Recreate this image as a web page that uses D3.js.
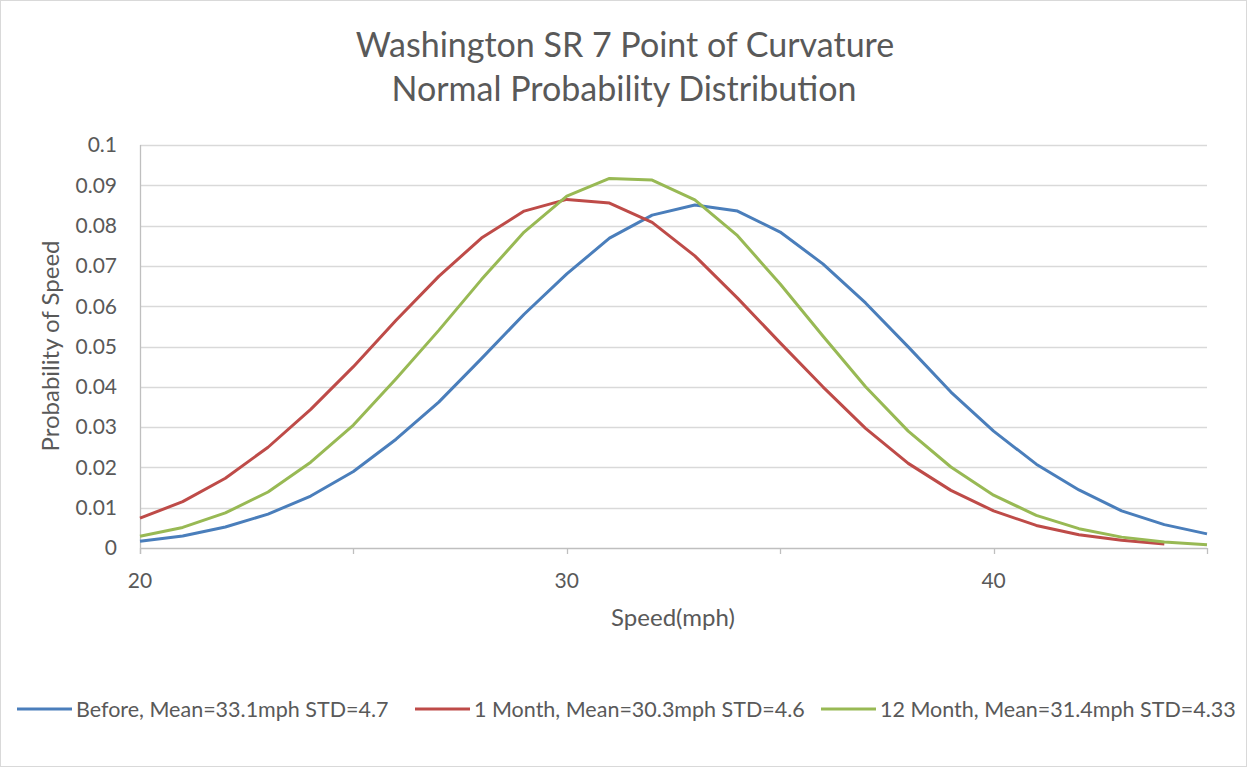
<!DOCTYPE html>
<html>
<head>
<meta charset="utf-8">
<script src="https://cdn.jsdelivr.net/npm/d3@7"></script>
<style>
  html, body { margin: 0; padding: 0; background: #fff; }
  svg { display: block; }
  text { font-family: Lato, "Open Sans", sans-serif; fill: #595959; }
</style>
</head>
<body>
<script>
// Speeds (mph) sampled at whole numbers
const speeds = d3.range(20, 46);

// Probability of speed for each period
const beforeValues = [0.0017, 0.0030, 0.0052, 0.0084, 0.0129, 0.0190, 0.0270, 0.0362, 0.0470, 0.0580,
  0.0680, 0.0769, 0.0826, 0.0851, 0.0836, 0.0784, 0.0705, 0.0608, 0.0499, 0.0387,
  0.0290, 0.0208, 0.0144, 0.0092, 0.0058, 0.0035];
const oneMonthValues = [0.0074, 0.0115, 0.0173, 0.0250, 0.0344, 0.0450, 0.0565, 0.0674, 0.0769, 0.0836,
  0.0865, 0.0856, 0.0808, 0.0725, 0.0620, 0.0509, 0.0400, 0.0297, 0.0210, 0.0143,
  0.0092, 0.0056, 0.0033, 0.0019, 0.0010];
const twelveMonthValues = [0.0029, 0.0051, 0.0087, 0.0139, 0.0213, 0.0305, 0.0420, 0.0540, 0.0666, 0.0784,
  0.0873, 0.0917, 0.0913, 0.0864, 0.0775, 0.0655, 0.0526, 0.0400, 0.0290, 0.0201,
  0.0131, 0.0081, 0.0048, 0.0027, 0.0015, 0.0008];

const seriesNames = [
  "Before, Mean=33.1mph STD=4.7",
  "1 Month, Mean=30.3mph STD=4.6",
  "12 Month, Mean=31.4mph STD=4.33"
];
const seriesColors = ["#4a7ebb", "#be4b48", "#98b954"];

const xTickValues = [20, 30, 40];
const xMinorTicks = [20, 25, 30, 35, 40, 45];
const yTickValues = d3.range(0, 0.1001, 0.01);

const titleLines = ["Washington SR 7 Point of Curvature", "Normal Probability Distribution"];
const xTitle = "Speed(mph)";
const yTitle = "Probability of Speed";

const W = 1247, H = 767;
const plot = { left: 140, right: 1207, top: 145, bottom: 548 };

const svg = d3.select("body").append("svg").attr("width", W).attr("height", H);

svg.append("rect").attr("x", 0.5).attr("y", 0.5).attr("width", W - 1).attr("height", H - 1)
  .attr("fill", "#fff").attr("stroke", "#d9d9d9");

const x = d3.scaleLinear().domain([20, 45]).range([plot.left, plot.right]);
const y = d3.scaleLinear().domain([0, 0.1]).range([plot.bottom, plot.top]);

// Horizontal gridlines
svg.append("g").selectAll("line").data(yTickValues.filter(v => v > 0.001)).join("line")
  .attr("x1", plot.left).attr("x2", plot.right)
  .attr("y1", d => Math.round(y(d)) + 0.5).attr("y2", d => Math.round(y(d)) + 0.5)
  .attr("stroke", "#d9d9d9").attr("stroke-width", 1.3);

// Y axis line
svg.append("line").attr("x1", plot.left + 0.5).attr("x2", plot.left + 0.5)
  .attr("y1", plot.top).attr("y2", plot.bottom + 6)
  .attr("stroke", "#bfbfbf").attr("stroke-width", 1.3);

// X axis with minor tick marks
svg.append("line").attr("x1", plot.left).attr("x2", plot.right)
  .attr("y1", plot.bottom + 0.5).attr("y2", plot.bottom + 0.5)
  .attr("stroke", "#bfbfbf").attr("stroke-width", 1.3);
svg.append("g").selectAll("line").data(xMinorTicks).join("line")
  .attr("x1", d => Math.round(x(d)) + 0.5).attr("x2", d => Math.round(x(d)) + 0.5)
  .attr("y1", plot.bottom).attr("y2", plot.bottom + 6)
  .attr("stroke", "#bfbfbf").attr("stroke-width", 1.3);

// Tick labels
svg.append("g").selectAll("text").data(yTickValues).join("text")
  .attr("x", 117).attr("y", d => y(d)).attr("dy", "0.35em")
  .attr("text-anchor", "end").attr("font-size", 21)
  .text(d => d3.format("~g")(+d.toFixed(2)));

svg.append("g").selectAll("text").data(xTickValues).join("text")
  .attr("x", d => x(d)).attr("y", 581).attr("dy", "0.35em")
  .attr("text-anchor", "middle").attr("font-size", 21)
  .text(d => d);

// Series lines
const allSeries = [beforeValues, oneMonthValues, twelveMonthValues];
const line = d3.line().x((d, i) => x(speeds[i])).y(d => y(d));
svg.append("g").selectAll("path").data(allSeries).join("path")
  .attr("d", d => line(d))
  .attr("fill", "none")
  .attr("stroke", (d, i) => seriesColors[i])
  .attr("stroke-width", 3)
  .attr("stroke-linejoin", "round");

// Titles
svg.append("text").attr("x", 625).attr("y", 57).attr("text-anchor", "middle")
  .attr("font-size", 34).text(titleLines[0]);
svg.append("text").attr("x", 624).attr("y", 101).attr("text-anchor", "middle")
  .attr("font-size", 34).text(titleLines[1]);

svg.append("text").attr("x", 673).attr("y", 626).attr("text-anchor", "middle")
  .attr("font-size", 24).text(xTitle);

svg.append("text").attr("transform", "translate(59,346) rotate(-90)")
  .attr("text-anchor", "middle").attr("font-size", 24).text(yTitle);

// Legend
const legendX = [17, 415, 821];
const legend = svg.append("g").selectAll("g").data(seriesNames).join("g")
  .attr("transform", (d, i) => `translate(${legendX[i]},709)`);
legend.append("line").attr("x1", 0).attr("x2", 55)
  .attr("stroke", (d, i) => seriesColors[i]).attr("stroke-width", 3);
legend.append("text").attr("x", 59).attr("dy", "0.35em").attr("font-size", 21.5).text(d => d);
</script>
</body>
</html>
